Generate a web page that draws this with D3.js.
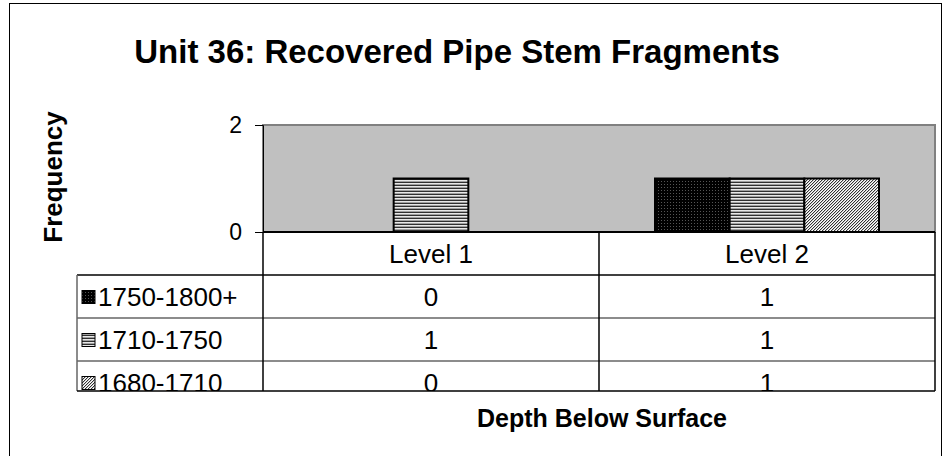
<!DOCTYPE html>
<html>
<head>
<meta charset="utf-8">
<script src="https://cdn.jsdelivr.net/npm/d3@7"></script>
<style>
  body { margin: 0; background: #fff; }
  text { font-family: "Liberation Sans", Arial, sans-serif; }
</style>
</head>
<body>
<svg width="944" height="456"></svg>
<script>
var categories = ["Level 1", "Level 2"];
var seriesNames = ["1750-1800+", "1710-1750", "1680-1710"];
var s1750 = [0, 1];
var s1710 = [1, 1];
var s1680 = [0, 1];
var yTicks = [0, 2];

var seriesValues = [s1750, s1710, s1680];
var patternIds = ["pDots", "pStripes", "pHatch"];

var svg = d3.select("svg");

// chart frame
svg.append("rect")
  .attr("x", 9.5).attr("y", 3.5)
  .attr("width", 932).attr("height", 470)
  .attr("fill", "#fff").attr("stroke", "#000").attr("stroke-width", 1);

// fill patterns
var defs = svg.append("defs");

var pd = defs.append("pattern").attr("id", "pDots")
  .attr("patternUnits", "userSpaceOnUse").attr("width", 3).attr("height", 3);
pd.append("rect").attr("width", 3).attr("height", 3).attr("fill", "#000");
pd.append("rect").attr("x", 1).attr("y", 1).attr("width", 1).attr("height", 1).attr("fill", "#555");

var ps = defs.append("pattern").attr("id", "pStripes")
  .attr("patternUnits", "userSpaceOnUse").attr("width", 4).attr("height", 3);
ps.append("rect").attr("width", 4).attr("height", 3).attr("fill", "#e8e8e8");
ps.append("rect").attr("y", 1).attr("width", 4).attr("height", 1).attr("fill", "#a0a0a0");
ps.append("rect").attr("y", 2).attr("width", 4).attr("height", 1).attr("fill", "#303030");

var ph = defs.append("pattern").attr("id", "pHatch")
  .attr("patternUnits", "userSpaceOnUse").attr("width", 3).attr("height", 3);
ph.append("rect").attr("width", 3).attr("height", 3).attr("fill", "#fff");
[[0, 2], [1, 1], [2, 0]].forEach(function(p) {
  ph.append("rect").attr("x", p[0]).attr("y", p[1]).attr("width", 1).attr("height", 1).attr("fill", "#333");
});
[[1, 2], [2, 1], [0, 0]].forEach(function(p) {
  ph.append("rect").attr("x", p[0]).attr("y", p[1]).attr("width", 1).attr("height", 1).attr("fill", "#c8c8c8");
});

// scales
var plotLeft = 263, plotRight = 935, plotTop = 125, plotBottom = 232;

var xScale = d3.scaleBand().domain(categories).range([plotLeft, plotRight]).padding(0);
var xSeries = d3.scaleBand().domain(seriesNames).range([0, xScale.bandwidth()])
  .paddingInner(0).paddingOuter(0.75);
var yScale = d3.scaleLinear().domain([0, 2]).range([plotBottom, plotTop]);

// title
svg.append("text")
  .attr("x", 457).attr("y", 63)
  .attr("text-anchor", "middle")
  .attr("font-size", 33).attr("font-weight", "bold")
  .text("Unit 36: Recovered Pipe Stem Fragments");

// plot area
svg.append("rect")
  .attr("x", plotLeft).attr("y", plotTop)
  .attr("width", plotRight - plotLeft).attr("height", plotBottom - plotTop)
  .attr("fill", "#c0c0c0").attr("stroke", "#808080").attr("stroke-width", 2);

// bars
var barData = [];
seriesNames.forEach(function(s, si) {
  categories.forEach(function(c, ci) {
    barData.push({series: s, cat: c, value: seriesValues[si][ci], pat: patternIds[si]});
  });
});

svg.append("g").selectAll("rect")
  .data(barData.filter(function(d) { return d.value > 0; }))
  .enter().append("rect")
    .attr("x", function(d) { return xScale(d.cat) + xSeries(d.series); })
    .attr("y", function(d) { return yScale(d.value); })
    .attr("width", xSeries.bandwidth())
    .attr("height", function(d) { return yScale(0) - yScale(d.value); })
    .attr("fill", function(d) { return "url(#" + d.pat + ")"; })
    .attr("stroke", "#000").attr("stroke-width", 2);

// y axis
var yAxis = d3.axisLeft(yScale).tickValues(yTicks).tickSize(8).tickPadding(13).tickFormat(d3.format("d"));
var gy = svg.append("g")
  .attr("transform", "translate(" + plotLeft + ",0)")
  .call(yAxis);
gy.select(".domain").attr("stroke", "#000");
gy.selectAll("text").attr("font-size", 23).attr("fill", "#000")
  .style("font-family", "Liberation Sans, Arial, sans-serif");

svg.append("text")
  .attr("transform", "translate(62,177) rotate(-90)")
  .attr("text-anchor", "middle")
  .attr("font-size", 26).attr("font-weight", "bold")
  .text("Frequency");

// data table
var rowScale = d3.scaleBand().domain(["header"].concat(seriesNames)).range([plotBottom, plotBottom + 43 * 4]);
var tableLeft = 77, tableBottom = 391;

defs.append("clipPath").attr("id", "tableClip")
  .append("rect").attr("x", 0).attr("y", plotBottom - 2).attr("width", 944).attr("height", tableBottom - plotBottom + 2);

var table = svg.append("g").attr("clip-path", "url(#tableClip)");

// horizontal lines
seriesNames.forEach(function(s) {
  table.append("line")
    .attr("x1", tableLeft).attr("x2", plotRight)
    .attr("y1", rowScale(s)).attr("y2", rowScale(s))
    .attr("stroke", s === seriesNames[0] ? "#000" : "#666").attr("stroke-width", 1.5);
});
// vertical lines
[plotLeft].concat(categories.map(function(c) { return xScale(c) + xScale.bandwidth(); })).forEach(function(x, i) {
  table.append("line")
    .attr("x1", x).attr("x2", x)
    .attr("y1", plotBottom).attr("y2", tableBottom)
    .attr("stroke", "#000").attr("stroke-width", 1.5);
});
table.append("line")
  .attr("x1", tableLeft).attr("x2", tableLeft)
  .attr("y1", rowScale(seriesNames[0])).attr("y2", tableBottom)
  .attr("stroke", "#666").attr("stroke-width", 1.5);

// header labels
table.selectAll(".hdr").data(categories).enter().append("text")
  .attr("class", "hdr")
  .attr("x", function(d) { return xScale(d) + xScale.bandwidth() / 2; })
  .attr("y", rowScale("header") + rowScale.bandwidth() / 2 + 9)
  .attr("text-anchor", "middle").attr("font-size", 26)
  .text(function(d) { return d; });

// legend keys and series names
seriesNames.forEach(function(s, si) {
  var yMid = rowScale(s) + rowScale.bandwidth() / 2;
  table.append("rect")
    .attr("x", 82).attr("y", yMid - 6)
    .attr("width", 13).attr("height", 13)
    .attr("fill", "url(#" + patternIds[si] + ")")
    .attr("stroke", "#000").attr("stroke-width", 1);
  table.append("text")
    .attr("x", 98).attr("y", yMid + 9)
    .attr("font-size", 26)
    .text(s);
  table.selectAll(".v" + si).data(seriesValues[si]).enter().append("text")
    .attr("x", function(d, i) { return xScale(categories[i]) + xScale.bandwidth() / 2; })
    .attr("y", yMid + 9)
    .attr("text-anchor", "middle").attr("font-size", 26)
    .text(function(d) { return d; });
});

// bottom edge of table
svg.append("line")
  .attr("x1", tableLeft).attr("x2", plotRight)
  .attr("y1", tableBottom).attr("y2", tableBottom)
  .attr("stroke", "#000").attr("stroke-width", 1.5);

// x axis line on top
svg.append("line")
  .attr("x1", plotLeft).attr("x2", plotRight)
  .attr("y1", plotBottom).attr("y2", plotBottom)
  .attr("stroke", "#000").attr("stroke-width", 2);

svg.append("text")
  .attr("x", 602).attr("y", 427)
  .attr("text-anchor", "middle")
  .attr("font-size", 25).attr("font-weight", "bold")
  .text("Depth Below Surface");
</script>
</body>
</html>
